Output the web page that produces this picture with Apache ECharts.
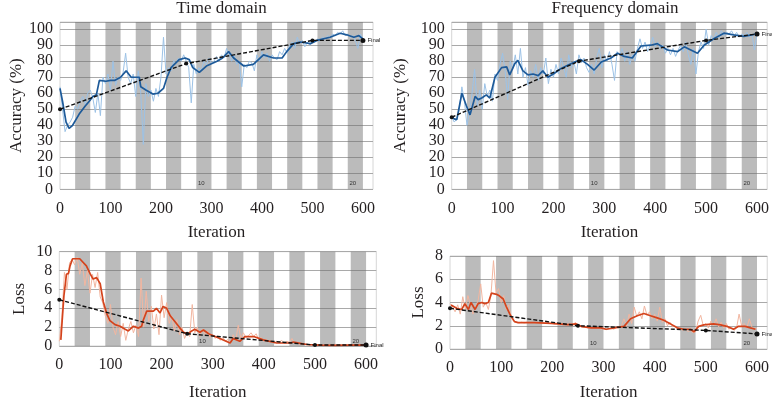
<!DOCTYPE html>
<html>
<head>
<meta charset="utf-8">
<script src="https://cdn.jsdelivr.net/npm/echarts@6/dist/echarts.min.js"></script>
<style>html,body{margin:0;padding:0;background:#fff;}#c{width:772px;height:402px;}</style>
</head>
<body>
<div id="c"></div>
<script>
// ---------- data ----------
const panelTitles = ['Time domain', 'Frequency domain'];
const xName = 'Iteration';
const accName = 'Accuracy (%)';
const lossName = 'Loss';
const epochBands = [[30,60],[90,120],[150,180],[210,240],[270,300],[330,360],[390,420],[450,480],[510,540],[570,600]];
const epochMarks = ['10', '20'];

const rawIter = [0,5,10,15,20,25,30,35,40,45,50,55,60,65,70,75,80,85,90,95,
100,105,110,115,120,125,130,135,140,145,150,155,160,165,170,175,180,185,190,195,
200,205,210,215,220,225,230,235,240,245,250,255,260,265,270,275,280,285,290,295,
300,305,310,315,320,325,330,335,340,345,350,355,360,365,370,375,380,385,390,395,
400,405,410,415,420,425,430,435,440,445,450,455,460,465,470,475,480,485,490,495,
500,505,510,515,520,525,530,535,540,545,550,555,560,565,570,575,580,585,590,595,600];

const timeAccRaw = [64,50,36,40,42,45,52,50,55,58,
53,60,62,57,48,60,46,70,66,72,
62,80,65,70,68,73,85,70,66,72,
58,74,60,28,66,58,62,55,63,58,
70,95,72,76,74,80,79,82,80,84,
80,76,54,78,72,76,74,80,78,82,
79,80,83,80,84,82,88,84,80,84,
78,80,64,78,76,80,79,74,84,80,
86,82,85,80,84,82,81,86,84,88,
85,90,92,88,95,91,93,89,92,90,
93,92,94,93,95,94,96,95,97,96,
98,97,99,96,97,95,96,93,88,97,94];

const freqAccRaw = [45,42,44,50,64,55,40,48,60,75,
52,62,50,66,58,62,55,72,68,78,
85,74,56,80,75,84,72,88,70,76,
65,74,70,78,68,76,72,82,66,75,
70,78,72,82,76,70,84,76,80,72,
84,79,82,76,73,78,72,82,88,76,
84,80,86,78,68,86,84,88,80,86,
78,84,80,88,94,88,92,86,90,95,
89,92,88,90,85,88,84,88,83,87,
90,86,92,84,78,88,72,86,92,88,
100,90,96,94,98,95,99,96,98,97,
99,96,98,95,97,96,98,95,97,87,97];

const timeLossRaw = [0.5,3.0,7.8,6.0,8.8,9.2,8.6,9.4,7.6,8.8,
6.4,8.0,5.6,7.6,6.2,7.8,5.2,4.6,3.2,2.4,
4.4,2.0,1.2,2.6,1.0,2.4,0.6,1.8,2.6,1.4,
2.2,1.0,7.2,2.0,5.8,2.6,4.2,1.8,3.4,1.2,
5.4,3.0,4.6,2.4,3.2,1.6,2.8,1.2,2.0,0.8,
1.4,1.0,4.4,1.4,2.0,1.0,1.8,1.2,1.6,0.9,
1.2,0.8,1.1,0.6,0.9,0.5,0.7,0.3,1.2,0.6,
2.2,0.8,1.4,0.9,1.1,1.4,1.0,1.3,0.7,0.9,
0.5,0.7,0.4,0.6,0.3,0.5,0.4,0.6,0.3,0.5,
0.4,0.8,0.3,0.4,0.2,0.3,0.15,0.2,0.1,0.15,
0.1,0.08,0.12,0.06,0.1,0.05,0.08,0.06,0.1,0.05,
0.08,0.12,0.06,0.1,0.08,0.12,0.05,0.1,0.08,0.12,0.1];

const freqLossRaw = [3.9,3.6,3.2,3.8,3.0,4.5,3.4,4.6,3.8,3.0,
3.6,4.2,5.6,3.6,4.0,3.4,4.6,7.6,4.8,5.2,
4.0,4.6,3.4,3.8,2.6,2.4,2.3,2.25,2.3,2.25,
2.3,2.25,2.3,2.25,2.3,2.2,2.25,2.2,2.25,2.2,
2.2,2.15,2.2,2.1,2.15,2.1,2.05,2.1,2.0,2.3,
1.9,1.95,1.85,1.9,1.8,1.85,1.8,1.75,1.85,1.7,
1.8,1.65,1.75,1.8,1.7,1.85,1.8,2.0,2.6,1.9,
3.0,2.2,3.6,2.8,3.2,2.6,3.7,2.9,3.2,2.6,
3.0,2.4,3.6,2.3,2.6,2.0,2.3,1.9,2.0,1.7,
1.8,1.6,1.7,1.5,1.6,1.4,1.5,2.4,2.9,2.0,
2.2,1.8,2.4,2.0,2.6,1.9,2.3,1.8,2.2,1.7,
1.9,1.6,1.8,3.0,2.0,2.2,1.8,2.6,1.9,1.7,1.8];

const timeAccSmooth = [[0,63],[5,55],[12,42],[18,38],[25,40],[38,47],[50,52],[58,55],[65,58],[72,59],[78,68],[91,67.5],[100,68],[108,68],[120,70],[131,74],[141,70],[157,70],[160,64],[170,62],[184,59.5],[194,60],[205,63],[212,70],[220,76],[236,81],[248,82],[256,81],[263,76],[276,73],[290,77],[311,80],[322,82],[334,86],[344,82],[364,77],[383,78],[403,84],[423,82],[440,82],[449,86],[463,91],[476,92],[496,91],[509,93],[535,95],[555,97.5],[568,96.5],[582,95],[592,96],[600,94]];
const freqAccSmooth = [[0,45],[5,44],[10,43.5],[20,60],[29,52],[36,46.5],[46,58],[52,56],[59,57],[68,59],[75,57],[85,70],[98,76],[108,76.5],[114,71.5],[124,78.5],[130,80.5],[140,74],[150,71.5],[160,72],[170,71],[179,74],[189,70],[202,72.5],[215,75.5],[228,77.5],[245,80],[254,81],[267,78],[280,74.5],[294,79.5],[313,82],[326,85],[339,83],[355,82],[372,89.5],[391,90],[404,91],[424,87],[444,86],[457,89],[470,87],[483,85],[496,90],[515,94],[535,97.5],[554,96.5],[574,95.5],[599,97]];
const timeLossSmooth = [[3,0.65],[9,5.3],[14,7.6],[18,7.7],[21,8.5],[26,9.25],[40,9.25],[53,8.5],[60,7.7],[66,7.1],[73,7.25],[80,6.6],[86,4.7],[93,3.4],[99,2.7],[109,2.26],[119,2.1],[128,1.8],[135,1.6],[145,2.1],[155,1.9],[161,2.1],[164,2.7],[171,3.7],[184,3.7],[190,4.0],[197,3.5],[203,4.2],[210,4.0],[217,3.2],[226,2.6],[236,1.9],[243,1.45],[252,1.3],[259,1.6],[265,1.77],[275,1.45],[282,1.7],[292,1.3],[314,0.8],[334,0.32],[340,0.8],[353,0.5],[363,1.0],[380,1.0],[383,1.2],[399,0.65],[425,0.32],[451,0.32],[458,0.42],[484,0.16],[510,0.1],[536,0.06],[569,0.1],[600,0.1]];
const freqLossSmooth = [[2,3.78],[13,3.5],[23,3.4],[29,3.9],[36,3.4],[41,4.0],[49,3.4],[55,3.9],[62,4.0],[68,3.9],[75,4.0],[81,4.8],[91,4.7],[97,4.55],[104,4.3],[110,3.65],[117,3.0],[126,2.35],[133,2.27],[165,2.27],[198,2.2],[230,2.1],[246,2.16],[256,1.95],[276,1.82],[295,1.82],[305,1.7],[321,1.82],[340,1.95],[353,2.6],[366,2.86],[379,3.05],[392,2.86],[405,2.68],[418,2.47],[431,2.16],[444,1.82],[457,1.7],[470,1.7],[477,1.48],[486,1.95],[496,2.08],[515,2.16],[529,2.08],[541,1.95],[554,1.7],[564,1.95],[577,1.95],[587,1.82],[597,1.7]];

const timeAccVal = [[0,50],[250,78.5],[500,93],[600,93]];
const freqAccVal = [[0,45],[250,80],[500,93],[600,97]];
const timeLossVal = [[0,4.9],[250,1.3],[500,0.1],[600,0.1]];
const freqLossVal = [[0,3.5],[250,2.0],[500,1.6],[600,1.3]];

// ---------- chart ----------
const FONT = 'Liberation Serif, Times New Roman, serif';
const TXT = '#231f20';
const panels = [
  {grid:{left:60, top:22, width:313, height:167.3}, ymax:104.5, yint:10, ylab:100, yname:accName, ygap:35, xgap:35,
   raw:timeAccRaw, smooth:timeAccSmooth, val:timeAccVal, rawColor:'#9cc2e6', smColor:'#1d5a99', epY:4},
  {grid:{left:451.7, top:22, width:316.8, height:167.3}, ymax:104.5, yint:10, ylab:100, yname:accName, ygap:43, xgap:35,
   raw:freqAccRaw, smooth:freqAccSmooth, val:freqAccVal, rawColor:'#9cc2e6', smColor:'#1d5a99', epY:4},
  {grid:{left:59.3, top:251.7, width:317, height:103.3}, ymax:10, yint:2, ylab:10, yname:lossName, ygap:31, xgap:38,
   raw:timeLossRaw, smooth:timeLossSmooth, val:timeLossVal, rawColor:'#f2b6a0', smColor:'#d4431c', epY:0.45},
  {grid:{left:450, top:256, width:318.6, height:102.3}, ymax:8, yint:2, ylab:8, yname:lossName, ygap:23, xgap:35,
   raw:freqLossRaw, smooth:freqLossSmooth, val:freqLossVal, rawColor:'#f2b6a0', smColor:'#d4431c', epY:0.45}
];

const option = {
  animation:false,
  backgroundColor:'#fff',
  title: [
    {text:panelTitles[0], left:216.5, top:-5, textAlign:'center', textStyle:{fontFamily:FONT, fontSize:17, fontWeight:'normal', color:TXT}},
    {text:panelTitles[1], left:610, top:-5, textAlign:'center', textStyle:{fontFamily:FONT, fontSize:17, fontWeight:'normal', color:TXT}}
  ],
  grid: panels.map(p => Object.assign({show:true, borderColor:'#d6d6d6', borderWidth:1, backgroundColor:'#fff', containLabel:false}, p.grid)),
  xAxis: panels.map((p,i) => ({
    type:'value', gridIndex:i, min:0, max:620, interval:100,
    axisLine:{show:false}, axisTick:{show:false}, splitLine:{show:false},
    axisLabel:{fontFamily:FONT, fontSize:16, color:TXT, margin:11, formatter:v => (v % 100 === 0 && v <= 600) ? String(v) : ''},
    name:xName, nameLocation:'middle', nameGap:p.xgap,
    nameTextStyle:{fontFamily:FONT, fontSize:17, color:TXT}
  })),
  yAxis: panels.map((p,i) => ({
    type:'value', gridIndex:i, min:0, max:p.ymax, interval:p.yint,
    axisLine:{show:false}, axisTick:{show:false},
    splitLine:{show:true, lineStyle:{color:'#a9a9a9', width:1}},
    axisLabel:{fontFamily:FONT, fontSize:16, color:TXT, margin:7, formatter:v => (v <= p.ylab && Math.abs(v % p.yint) < 1e-9) ? String(v) : ''},
    name:p.yname, nameLocation:'middle', nameGap:p.ygap, nameRotate:90,
    nameTextStyle:{fontFamily:FONT, fontSize:17, color:TXT}
  })),
  series: []
};

panels.forEach((p,i) => {
  option.series.push({
    type:'line', xAxisIndex:i, yAxisIndex:i, z:2,
    data: rawIter.map((it,k) => [it, p.raw[k]]),
    showSymbol:false, symbol:'none',
    lineStyle:{color:p.rawColor, width:1},
    markArea:{silent:true, itemStyle:{color:'rgba(110,110,110,0.47)'},
      data: epochBands.map(b => [{xAxis:b[0]}, {xAxis:b[1]}])}
  });
  option.series.push({
    type:'line', xAxisIndex:i, yAxisIndex:i, z:3,
    data:p.smooth, showSymbol:false, symbol:'none',
    lineStyle:{color:p.smColor, width:1.7}
  });
  const last = p.val.length - 1;
  option.series.push({
    type:'line', xAxisIndex:i, yAxisIndex:i, z:4,
    data: p.val.map((v,k) => k === last ? {value:v, symbolSize:5, label:{show:true, formatter:'Final', position:'right', distance:2, fontSize:6, fontFamily:'Liberation Sans', color:'#222'}} : v),
    symbol:'circle', symbolSize:4, showSymbol:true,
    itemStyle:{color:'#111'},
    lineStyle:{color:'#111', width:1.4, type:[4,2]},
    markPoint:{symbol:'circle', symbolSize:0, silent:true,
      label:{show:true, formatter:d => d.name, fontSize:6, fontFamily:'Liberation Sans', color:'#333'},
      data:[{name:epochMarks[0], coord:[280, p.epY]}, {name:epochMarks[1], coord:[580, p.epY]}]}
  });
});

const chart = echarts.init(document.getElementById('c'), null, {renderer:'canvas'});
chart.setOption(option);
</script>
</body>
</html>
